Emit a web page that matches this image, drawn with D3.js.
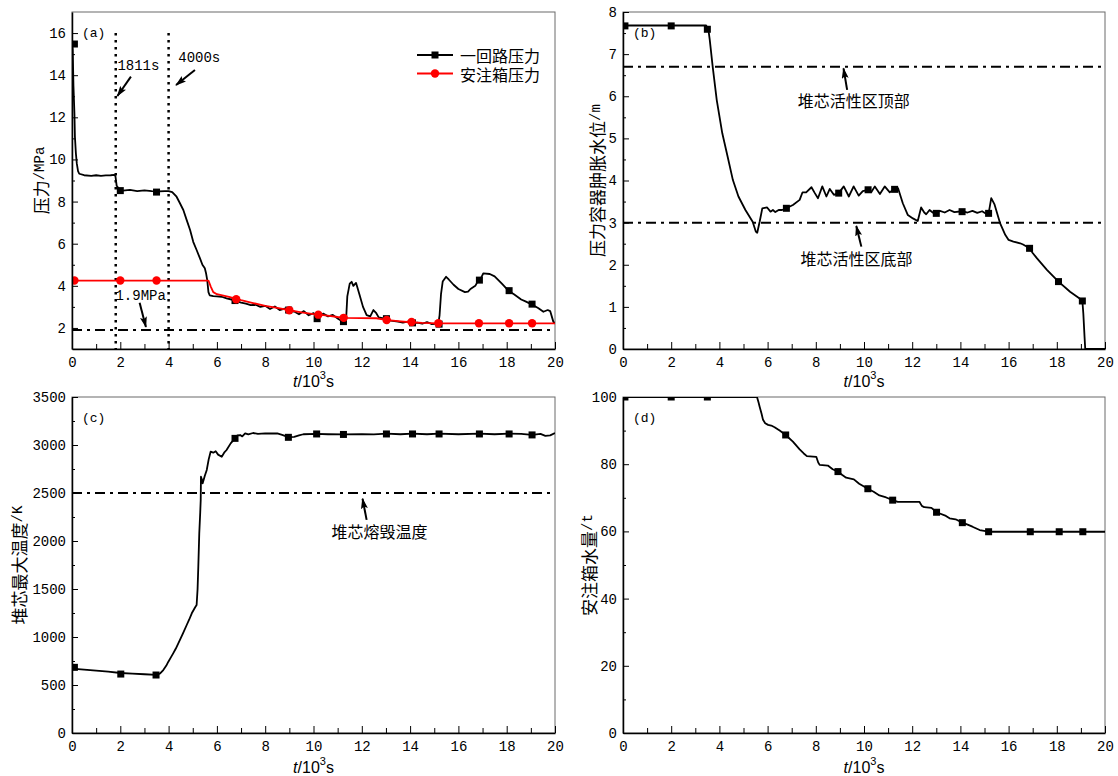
<!DOCTYPE html>
<html>
<head>
<meta charset="utf-8">
<script src="https://cdn.jsdelivr.net/npm/d3@7"></script>
<style>
  body { margin: 0; background: #fff; }
  svg { display: block; }
</style>
</head>
<body>
<svg id="chart" width="1118" height="776"></svg>
<script>
// ---------- shared time axis (10^3 s) ----------
const timeTicks = [0, 2, 4, 6, 8, 10, 12, 14, 16, 18, 20];
const timeMinor = [1, 3, 5, 7, 9, 11, 13, 15, 17, 19];

// ---------- (a) pressures, MPa ----------
const pressureTicks = [2, 4, 6, 8, 10, 12, 14, 16];
const pressureMinor = [3, 5, 7, 9, 11, 13, 15];
const primaryPressure = [
  [0, 15.6], [0.03, 15.2], [0.06, 13.5], [0.1, 12.2], [0.12, 11.1], [0.16, 10.3], [0.2, 9.8],
  [0.25, 9.45], [0.3, 9.32], [0.5, 9.25], [0.8, 9.22], [1.0, 9.25], [1.2, 9.22], [1.4, 9.24],
  [1.6, 9.25], [1.75, 9.27], [1.8, 9.2], [1.85, 8.75], [1.95, 8.6], [2.1, 8.52], [2.4, 8.55],
  [2.7, 8.5], [3.0, 8.53], [3.3, 8.5], [3.6, 8.48], [3.85, 8.5], [4.0, 8.5], [4.15, 8.45],
  [4.33, 8.23], [4.47, 7.92], [4.61, 7.6], [4.75, 7.12], [4.89, 6.65], [5.02, 6.09], [5.16, 5.7],
  [5.3, 5.3], [5.4, 5.0], [5.5, 4.83], [5.55, 4.6], [5.6, 4.27], [5.65, 3.7], [5.7, 3.55],
  [5.85, 3.51], [6.0, 3.5], [6.2, 3.48], [6.4, 3.4], [6.6, 3.35], [6.8, 3.28], [7.0, 3.2],
  [7.2, 3.15], [7.4, 3.08], [7.6, 3.1], [7.8, 3.0], [8.0, 3.05], [8.2, 2.9], [8.4, 3.02],
  [8.6, 2.85], [8.8, 2.92], [9.0, 2.8], [9.2, 2.78], [9.4, 2.65], [9.6, 2.8], [9.8, 2.6],
  [10.0, 2.7], [10.2, 2.45], [10.4, 2.68], [10.6, 2.55], [10.8, 2.62], [11.0, 2.45], [11.2, 2.3],
  [11.35, 2.4], [11.4, 3.5], [11.5, 4.1], [11.58, 4.19], [11.65, 4.0], [11.76, 4.14], [11.9, 3.6],
  [12.05, 3.0], [12.2, 2.61], [12.35, 2.55], [12.48, 2.85], [12.6, 2.7], [12.7, 2.5], [12.9, 2.45],
  [13.0, 2.45], [13.2, 2.35], [13.5, 2.3], [13.7, 2.25], [13.9, 2.3], [14.06, 2.22], [14.3, 2.25],
  [14.5, 2.2], [14.7, 2.28], [14.9, 2.18], [15.17, 2.2], [15.22, 2.6], [15.28, 3.6], [15.35, 4.2],
  [15.49, 4.43], [15.6, 4.3], [15.8, 4.05], [16.0, 3.85], [16.27, 3.7], [16.4, 3.72], [16.5, 3.85],
  [16.7, 4.0], [16.83, 4.27], [16.95, 4.4], [17.03, 4.59], [17.3, 4.56], [17.5, 4.45], [17.8, 4.1],
  [18.07, 3.77], [18.3, 3.6], [18.6, 3.35], [18.8, 3.25], [19.03, 3.12], [19.3, 2.95], [19.52, 2.77],
  [19.7, 2.85], [19.8, 2.8], [19.93, 2.3], [20.0, 2.2]
];
const primaryMarks = [
  [0.1, 15.48], [2.0, 8.52], [3.5, 8.45], [6.75, 3.3], [8.97, 2.85], [10.15, 2.44], [11.24, 2.3],
  [13.02, 2.44], [14.1, 2.24], [15.2, 2.18], [16.87, 4.27], [18.1, 3.77], [19.05, 3.13]
];
const accumPressure = [
  [0, 4.25], [5.65, 4.25], [5.75, 3.95], [5.85, 3.7], [6.0, 3.6], [6.5, 3.48], [7.0, 3.32],
  [7.5, 3.18], [8.0, 3.05], [8.5, 2.95], [9.0, 2.84], [9.5, 2.74], [10.0, 2.66], [10.5, 2.6],
  [11.0, 2.52], [11.3, 2.48], [12.6, 2.46], [13.0, 2.38], [13.5, 2.32], [14.0, 2.27], [14.5, 2.24],
  [15.2, 2.22], [20, 2.22]
];
const accumMarks = [
  [0.1, 4.25], [2.0, 4.25], [3.5, 4.25], [6.8, 3.36], [9.0, 2.84], [10.2, 2.63], [11.25, 2.48],
  [13.03, 2.38], [14.06, 2.28], [15.17, 2.22], [16.85, 2.22], [18.1, 2.22], [19.05, 2.22]
];
const eventTimes = [1.811, 4.0];
const setpointPressure = 1.9;

// ---------- (b) vessel swell level, m ----------
const levelTicks = [0, 1, 2, 3, 4, 5, 6, 7, 8];
const levelMinor = [0.5, 1.5, 2.5, 3.5, 4.5, 5.5, 6.5, 7.5];
const swellLevel = [
  [0, 7.68], [3.45, 7.68], [3.55, 7.55], [3.6, 7.34], [3.72, 6.71], [3.89, 5.91], [4.12, 5.12],
  [4.34, 4.57], [4.56, 4.01], [4.79, 3.62], [5.08, 3.3], [5.38, 3.02], [5.51, 2.79], [5.57, 2.76],
  [5.67, 3.02], [5.78, 3.34], [5.98, 3.36], [6.12, 3.26], [6.22, 3.3], [6.32, 3.25], [6.46, 3.3],
  [6.6, 3.3], [6.78, 3.34], [7.05, 3.42], [7.33, 3.54], [7.45, 3.72], [7.6, 3.72], [7.82, 3.84],
  [7.96, 3.7], [8.09, 3.58], [8.27, 3.86], [8.44, 3.62], [8.58, 3.8], [8.75, 3.66], [8.95, 3.7],
  [9.16, 3.86], [9.37, 3.62], [9.57, 3.86], [9.78, 3.64], [9.95, 3.75], [10.17, 3.78], [10.3, 3.72],
  [10.45, 3.86], [10.66, 3.68], [10.86, 3.86], [11.07, 3.72], [11.27, 3.8], [11.41, 3.82],
  [11.61, 3.46], [11.82, 3.18], [12.03, 3.1], [12.23, 3.04], [12.37, 3.36], [12.5, 3.24],
  [12.58, 3.2], [12.72, 3.3], [12.85, 3.24], [13.0, 3.22], [13.15, 3.28], [13.35, 3.24],
  [13.55, 3.3], [13.75, 3.25], [14.07, 3.27], [14.3, 3.24], [14.5, 3.28], [14.7, 3.23], [14.9, 3.27],
  [15.1, 3.2], [15.17, 3.22], [15.22, 3.38], [15.28, 3.58], [15.41, 3.44], [15.65, 2.98],
  [15.86, 2.71], [16.0, 2.59], [16.2, 2.55], [16.48, 2.51], [16.6, 2.48], [16.87, 2.39], [17.0, 2.28],
  [17.18, 2.15], [17.59, 1.88], [18.07, 1.6], [18.55, 1.36], [18.8, 1.26], [19.06, 1.15],
  [19.1, 0.85], [19.15, 0.3], [19.18, 0], [20, 0]
];
const swellMarks = [
  [0.08, 7.67], [2.0, 7.67], [3.5, 7.59], [6.78, 3.34], [8.95, 3.7], [10.17, 3.78], [11.27, 3.79],
  [13.0, 3.22], [14.07, 3.26], [15.17, 3.22], [16.87, 2.39], [18.07, 1.6], [19.06, 1.14]
];
const coreTopLevel = 6.7;
const coreBottomLevel = 3.0;

// ---------- (c) peak core temperature, K ----------
const tempTicks = [0, 500, 1000, 1500, 2000, 2500, 3000, 3500];
const tempMinor = [250, 750, 1250, 1750, 2250, 2750, 3250];
const coreTemp = [
  [0, 670], [0.5, 660], [1, 650], [1.5, 640], [2, 625], [2.5, 618], [3, 612], [3.5, 605],
  [3.65, 620], [3.78, 656], [3.9, 700], [3.99, 743], [4.1, 790], [4.19, 830], [4.3, 880],
  [4.47, 969], [4.6, 1040], [4.75, 1125], [4.85, 1180], [4.96, 1247], [5.1, 1310], [5.16, 1333],
  [5.2, 1500], [5.23, 1732], [5.27, 2080], [5.31, 2300], [5.33, 2427], [5.34, 2670], [5.38, 2640],
  [5.41, 2601], [5.5, 2680], [5.58, 2740], [5.66, 2850], [5.74, 2930], [5.85, 2920], [5.95, 2935],
  [6.05, 2900], [6.2, 2878], [6.3, 2920], [6.4, 2948], [6.57, 3017], [6.75, 3069], [6.85, 3100],
  [6.96, 3104], [7.05, 3090], [7.17, 3121], [7.3, 3110], [7.5, 3125], [7.7, 3115], [8.0, 3122],
  [8.5, 3120], [8.7, 3105], [8.96, 3082], [9.2, 3085], [9.4, 3100], [9.58, 3112], [10.13, 3115],
  [10.6, 3112], [11.24, 3110], [12, 3112], [12.5, 3110], [13.02, 3118], [13.6, 3112], [14.1, 3118],
  [14.7, 3112], [15.2, 3118], [16.0, 3112], [16.87, 3118], [17.5, 3112], [18.1, 3118], [18.6, 3115],
  [19.05, 3105], [19.4, 3115], [19.6, 3095], [19.8, 3100], [20, 3125]
];
const coreTempMarks = [
  [0.1, 684], [2.02, 614], [3.48, 604], [6.75, 3069], [8.96, 3080], [10.13, 3115], [11.24, 3110],
  [13.02, 3115], [14.1, 3115], [15.2, 3115], [16.87, 3115], [18.1, 3115], [19.05, 3105]
];
const meltTemp = 2500;

// ---------- (d) accumulator water inventory, t ----------
const waterTicks = [0, 20, 40, 60, 80, 100];
const waterMinor = [10, 30, 50, 70, 90];
const tankWater = [
  [0, 100], [5.56, 100], [5.62, 98.5], [5.67, 97.1], [5.75, 95], [5.81, 93.2], [5.9, 92.2],
  [6.02, 91.7], [6.15, 91.5], [6.29, 91.0], [6.5, 90], [6.75, 88.7], [7.05, 86.7], [7.33, 84.4],
  [7.5, 83.2], [7.63, 82.4], [8.02, 82.2], [8.1, 80.5], [8.16, 79.8], [8.5, 79.6], [8.7, 78.5],
  [8.92, 77.8], [9.1, 76.8], [9.26, 76.0], [9.58, 75.5], [9.8, 74.2], [10.16, 72.7], [10.4, 71.8],
  [10.64, 70.7], [10.92, 70.1], [11.19, 69.3], [11.4, 68.8], [12.3, 68.8], [12.4, 67.6],
  [12.5, 67.2], [12.8, 67.0], [13.01, 65.7], [13.4, 64.6], [13.55, 63.9], [13.8, 63.6],
  [14.08, 62.6], [14.3, 62.0], [14.5, 61.4], [14.8, 60.4], [15.17, 59.9], [20, 59.9]
];
const tankMarks = [
  [0.08, 100], [2.0, 100], [3.5, 100], [6.75, 88.7], [8.92, 77.8], [10.16, 72.7], [11.19, 69.3],
  [13.01, 65.7], [14.08, 62.6], [15.17, 59.9], [16.9, 59.9], [18.1, 59.9], [19.08, 59.9]
];

// ---------- drawing ----------
const MONO = "'Liberation Mono', 'Noto Sans CJK SC', monospace";
const CJK = "'Noto Sans CJK SC', 'Noto Sans CJK JP', sans-serif";
const SANS = "'Liberation Sans', Arial, sans-serif";
const DASHDOT = "10,5,3,5";

const svg = d3.select("#chart");
svg.append("rect").attr("width", 1118).attr("height", 776).attr("fill", "#fff");
const defs = svg.append("defs");
defs.append("marker")
  .attr("id", "arrowHead")
  .attr("viewBox", "0 0 11 7")
  .attr("refX", 10).attr("refY", 3.5)
  .attr("markerWidth", 11).attr("markerHeight", 7)
  .attr("markerUnits", "userSpaceOnUse")
  .attr("orient", "auto")
  .append("path").attr("d", "M0,0 L11,3.5 L0,7 L2,3.5 Z").attr("fill", "#000");

// y-axis title: CJK part plus a monospace unit part
function yTitle(g, x, y, cjk, unit) {
  const t = g.append("text")
    .attr("transform", `translate(${x},${y}) rotate(-90)`)
    .attr("text-anchor", "middle")
    .attr("dominant-baseline", "central")
    .attr("fill", "#000");
  t.append("tspan").attr("font-family", CJK).attr("font-size", 17).text(cjk);
  t.append("tspan").attr("font-family", MONO).attr("font-size", 14).text(unit);
}

function xTitle(g, x, y) {
  const t = g.append("text")
    .attr("x", x).attr("y", y)
    .attr("text-anchor", "middle")
    .attr("dominant-baseline", "central")
    .attr("font-family", SANS).attr("font-size", 16).attr("fill", "#000");
  t.append("tspan").attr("font-style", "italic").text("t");
  t.append("tspan").text("/10");
  t.append("tspan").attr("font-size", 11).attr("dy", -6).text("3");
  t.append("tspan").attr("dy", 6).text("s");
}

function drawPanel(p) {
  const g = svg.append("g");
  const x = d3.scaleLinear().domain([0, 20]).range([p.left, p.right]);
  const y = d3.scaleLinear().domain(p.yDomain).range([p.bottom, p.top]);

  const clipId = "clip-" + p.tag.replace(/[()]/g, "");
  defs.append("clipPath").attr("id", clipId).append("rect")
    .attr("x", p.left).attr("y", p.top)
    .attr("width", p.right - p.left).attr("height", p.bottom - p.top);

  // frame (top/right edges stay grey, axes drawn over it)
  g.append("rect")
    .attr("x", p.left).attr("y", p.top)
    .attr("width", p.right - p.left).attr("height", p.bottom - p.top)
    .attr("fill", "none").attr("stroke", "#6a6a6a").attr("stroke-width", 1);

  const plot = g.append("g").attr("clip-path", `url(#${clipId})`);

  // horizontal reference lines
  (p.refs || []).forEach(v => {
    plot.append("line")
      .attr("x1", x(0)).attr("x2", x(20)).attr("y1", y(v)).attr("y2", y(v))
      .attr("stroke", "#000").attr("stroke-width", 2).attr("stroke-dasharray", DASHDOT);
  });
  // vertical event lines
  (p.events || []).forEach(t => {
    plot.append("line")
      .attr("x1", x(t)).attr("x2", x(t)).attr("y1", y(p.eventTop)).attr("y2", y(p.yDomain[0]))
      .attr("stroke", "#000").attr("stroke-width", 2.5).attr("stroke-dasharray", "2.5,4.5");
  });

  const line = d3.line().x(d => x(d[0])).y(d => y(d[1]));
  p.series.forEach(s => {
    plot.append("path").datum(s.data)
      .attr("d", line).attr("fill", "none")
      .attr("stroke", s.color).attr("stroke-width", s.width || 1.8)
      .attr("stroke-linejoin", "round");
    if (s.shape === "square") {
      plot.selectAll(null).data(s.marks).enter().append("rect")
        .attr("x", d => x(d[0]) - 3.5).attr("y", d => y(d[1]) - 3.5)
        .attr("width", 7).attr("height", 7).attr("fill", s.color);
    } else {
      plot.selectAll(null).data(s.marks).enter().append("circle")
        .attr("cx", d => x(d[0])).attr("cy", d => y(d[1])).attr("r", 4.2).attr("fill", s.color);
    }
  });

  // axes
  const styleAxis = (sel) => {
    sel.select(".domain").attr("stroke", "#000").attr("stroke-width", 1.5);
    sel.selectAll(".tick line").attr("stroke", "#000").attr("stroke-width", 1);
    sel.selectAll(".tick text").attr("font-family", MONO).attr("font-size", 14).attr("fill", "#000");
  };
  g.append("g").attr("transform", `translate(0,${p.bottom})`)
    .call(d3.axisBottom(x).tickValues(timeMinor).tickSizeInner(-5).tickSizeOuter(0).tickFormat(""))
    .call(s => s.select(".domain").remove())
    .call(s => s.selectAll(".tick line").attr("stroke", "#000"));
  g.append("g").attr("transform", `translate(0,${p.bottom})`)
    .call(d3.axisBottom(x).tickValues(timeTicks).tickSizeInner(-7).tickSizeOuter(0).tickPadding(8).tickFormat(d3.format("d")))
    .call(styleAxis);
  g.append("g").attr("transform", `translate(${p.left},0)`)
    .call(d3.axisLeft(y).tickValues(p.yMinor).tickSizeInner(-3).tickSizeOuter(0).tickFormat(""))
    .call(s => s.select(".domain").remove())
    .call(s => s.selectAll(".tick line").attr("stroke", "#000"));
  g.append("g").attr("transform", `translate(${p.left},0)`)
    .call(d3.axisLeft(y).tickValues(p.yTicks).tickSizeInner(-6).tickSizeOuter(0).tickPadding(6).tickFormat(d3.format("d")))
    .call(styleAxis);

  yTitle(g, p.yTitleX, (p.top + p.bottom) / 2, p.yTitle[0], p.yTitle[1]);
  xTitle(g, (p.left + p.right) / 2, p.xTitleY);

  // panel tag
  g.append("text").attr("x", p.left + 10).attr("y", p.top + 21)
    .attr("dominant-baseline", "central")
    .attr("font-family", MONO).attr("font-size", 13).attr("fill", "#000").text(p.tag);

  // notes with pointer arrows
  (p.notes || []).forEach(n => {
    g.append("text").attr("x", x(n.at[0])).attr("y", y(n.at[1]))
      .attr("text-anchor", n.anchor || "middle")
      .attr("dominant-baseline", "central")
      .attr("font-family", n.cjk ? CJK : MONO)
      .attr("font-size", n.cjk ? 16 : 14)
      .attr("fill", "#000").text(n.text);
    if (n.arrow) {
      g.append("line")
        .attr("x1", x(n.arrow[0][0])).attr("y1", y(n.arrow[0][1]))
        .attr("x2", x(n.arrow[1][0])).attr("y2", y(n.arrow[1][1]))
        .attr("stroke", "#000").attr("stroke-width", 2)
        .attr("marker-end", "url(#arrowHead)");
    }
  });

  return { g, x, y };
}

// (a)
const pa = drawPanel({
  tag: "(a)", left: 72, right: 555, top: 12, bottom: 349,
  yDomain: [1, 17], yTicks: pressureTicks, yMinor: pressureMinor,
  yTitle: ["压力", "/MPa"], yTitleX: 40, xTitleY: 381,
  refs: [setpointPressure], events: eventTimes, eventTop: 16,
  series: [
    { data: primaryPressure, marks: primaryMarks, color: "#000", shape: "square", width: 1.8 },
    { data: accumPressure, marks: accumMarks, color: "#ff0000", shape: "circle", width: 1.8 }
  ],
  notes: [
    { text: "1811s", at: [1.88, 14.44], anchor: "start", arrow: [[2.44, 13.93], [1.88, 13.01]] },
    { text: "4000s", at: [4.4, 14.8], anchor: "start", arrow: [[5.09, 14.25], [4.31, 13.53]] },
    { text: "1.9MPa", at: [1.8, 3.5], anchor: "start", arrow: [[2.8, 3.2], [3.06, 2.05]] }
  ]
});

// legend for (a)
const legendItems = [
  { label: "一回路压力", color: "#000", shape: "square" },
  { label: "安注箱压力", color: "#ff0000", shape: "circle" }
];
legendItems.forEach((it, i) => {
  const ly = 55 + i * 18.5;
  const lg = pa.g.append("g");
  lg.append("line").attr("x1", 417).attr("x2", 453).attr("y1", ly).attr("y2", ly)
    .attr("stroke", it.color).attr("stroke-width", 1.8);
  if (it.shape === "square") {
    lg.append("rect").attr("x", 435 - 3.5).attr("y", ly - 3.5).attr("width", 7).attr("height", 7).attr("fill", it.color);
  } else {
    lg.append("circle").attr("cx", 435).attr("cy", ly).attr("r", 4.2).attr("fill", it.color);
  }
  lg.append("text").attr("x", 460).attr("y", ly).attr("dominant-baseline", "central")
    .attr("font-family", CJK).attr("font-size", 16).attr("fill", "#000").text(it.label);
});

// (b)
drawPanel({
  tag: "(b)", left: 623, right: 1105, top: 12, bottom: 349,
  yDomain: [0, 8], yTicks: levelTicks, yMinor: levelMinor,
  yTitle: ["压力容器肿胀水位", "/m"], yTitleX: 596, xTitleY: 381,
  refs: [coreTopLevel, coreBottomLevel],
  series: [{ data: swellLevel, marks: swellMarks, color: "#000", shape: "square", width: 1.8 }],
  notes: [
    { text: "堆芯活性区顶部", cjk: true, at: [9.57, 5.9], arrow: [[9.3, 6.15], [9.15, 6.66]] },
    { text: "堆芯活性区底部", cjk: true, at: [9.69, 2.16], arrow: [[9.89, 2.43], [9.68, 2.92]] }
  ]
});

// (c)
drawPanel({
  tag: "(c)", left: 72, right: 555, top: 397, bottom: 733,
  yDomain: [0, 3500], yTicks: tempTicks, yMinor: tempMinor,
  yTitle: ["堆芯最大温度", "/K"], yTitleX: 18, xTitleY: 767,
  refs: [meltTemp],
  series: [{ data: coreTemp, marks: coreTempMarks, color: "#000", shape: "square", width: 1.8 }],
  notes: [
    { text: "堆芯熔毁温度", cjk: true, at: [12.73, 2099], arrow: [[12.2, 2220], [12.03, 2440]] }
  ]
});

// (d)
drawPanel({
  tag: "(d)", left: 623, right: 1105, top: 397, bottom: 733,
  yDomain: [0, 100], yTicks: waterTicks, yMinor: waterMinor,
  yTitle: ["安注箱水量", "/t"], yTitleX: 588, xTitleY: 767,
  series: [{ data: tankWater, marks: tankMarks, color: "#000", shape: "square", width: 1.8 }]
});
</script>
</body>
</html>
